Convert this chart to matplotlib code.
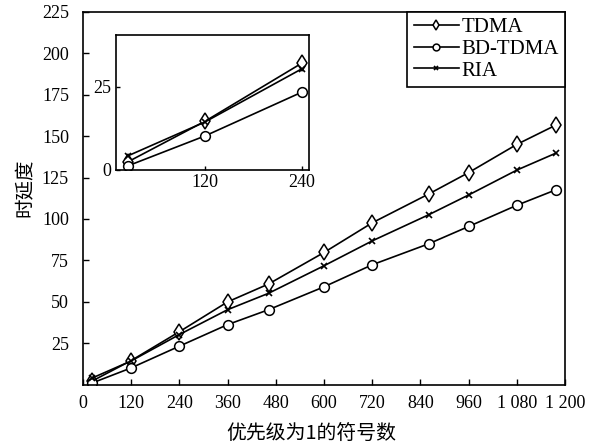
import matplotlib
matplotlib.use('Agg')
import matplotlib.pyplot as plt

plt.rcParams['font.family'] = ['Liberation Serif', 'Noto Sans CJK SC']

# data
x_vals = [24, 120, 240, 360, 462, 600, 720, 860, 960, 1080, 1176]
tdma = [2.4, 14.6, 32.0, 50.0, 60.8, 79.8, 97.7, 115.0, 128.0, 145.0, 156.5]
bd_tdma = [1.2, 10.2, 23.3, 36.3, 45.3, 59.1, 72.4, 85.0, 95.5, 108.3, 117.5]
ria = [4.2, 14.4, 30.3, 45.3, 55.2, 71.8, 86.8, 102.5, 114.5, 129.5, 139.6]

x_ticks = [0, 120, 240, 360, 480, 600, 720, 840, 960, 1080, 1200]
x_ticklabels = ['0', '120', '240', '360', '480', '600', '720', '840', '960', '1 080', '1 200']
y_ticks = [25, 50, 75, 100, 125, 150, 175, 200, 225]

inset_x = x_vals[:3]
inset_tdma = tdma[:3]
inset_bd = bd_tdma[:3]
inset_ria = ria[:3]

fig = plt.figure(figsize=(6, 4.47), dpi=100)
ax = fig.add_axes([0.138, 0.139, 0.804, 0.835])

line_kw = dict(color='black', linewidth=1.2)
ax.plot(x_vals, tdma, marker='d', markersize=8, markerfacecolor='white',
        markeredgewidth=1.1, label='TDMA', **line_kw)
ax.plot(x_vals, bd_tdma, marker='o', markersize=7, markerfacecolor='white',
        markeredgewidth=1.1, label='BD-TDMA', **line_kw)
ax.plot(x_vals, ria, marker='x', markersize=5, markeredgewidth=1.2,
        label='RIA', **line_kw)

ax.set_xlim(0, 1200)
ax.set_ylim(0, 225)
ax.set_xticks(x_ticks)
ax.set_xticklabels(x_ticklabels)
ax.set_yticks(y_ticks)
ax.tick_params(direction='in', labelsize=13, length=4, width=1)
ax.tick_params(axis='x', pad=7)
ax.tick_params(axis='y', pad=10)
for s in ax.spines.values():
    s.set_linewidth(1.2)

cjk = ['Noto Sans CJK SC', 'Liberation Serif']
ax.set_xlabel('优先级为1的符号数', fontsize=14.3, family=cjk)
ax.set_ylabel('时延度', fontsize=14, family=cjk)
ax.xaxis.set_label_coords(0.473, -0.105)
ax.yaxis.set_label_coords(-0.097, 0.528)

leg = ax.legend(loc='upper right', fontsize=15, frameon=True, fancybox=False,
                edgecolor='black', framealpha=1, borderaxespad=0,
                handlelength=2.2, handletextpad=0.1, borderpad=0.3,
                labelspacing=0.1, markerscale=0.7)
leg.get_frame().set_linewidth(1.2)

# inset zoom of the first three points
axin = fig.add_axes([0.193, 0.62, 0.322, 0.302])
axin.plot(inset_x, inset_tdma, marker='d', markersize=8, markerfacecolor='white',
          markeredgewidth=1.1, **line_kw)
axin.plot(inset_x, inset_bd, marker='o', markersize=7, markerfacecolor='white',
          markeredgewidth=1.1, **line_kw)
axin.plot(inset_x, inset_ria, marker='x', markersize=5, markeredgewidth=1.2, **line_kw)
axin.set_xlim(9, 249)
axin.set_ylim(0, 40.5)
axin.set_xticks([120, 240])
axin.set_yticks([0, 25])
axin.tick_params(direction='in', labelsize=13, length=3, width=1, pad=3)
for s in axin.spines.values():
    s.set_linewidth(1.2)

fig.savefig('out.png', dpi=100)
